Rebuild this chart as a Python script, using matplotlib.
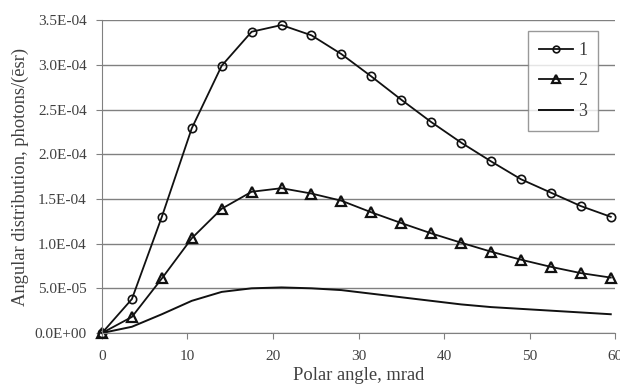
import matplotlib.pyplot as plt
import numpy as np

# polar angle, mrad
angle = [0, 3.5, 7, 10.5, 14, 17.5, 21, 24.5, 28, 31.5, 35, 38.5, 42, 45.5, 49, 52.5, 56, 59.5]

# angular distribution, photons/(e sr)
s1 = [0, 3.8e-5, 1.30e-4, 2.29e-4, 2.99e-4, 3.37e-4, 3.445e-4, 3.33e-4, 3.12e-4, 2.87e-4,
      2.61e-4, 2.36e-4, 2.13e-4, 1.92e-4, 1.72e-4, 1.57e-4, 1.42e-4, 1.30e-4]
s2 = [0, 1.8e-5, 6.1e-5, 1.06e-4, 1.39e-4, 1.58e-4, 1.62e-4, 1.56e-4, 1.48e-4, 1.35e-4,
      1.23e-4, 1.115e-4, 1.01e-4, 9.1e-5, 8.2e-5, 7.4e-5, 6.7e-5, 6.2e-5]
s3 = [0, 7e-6, 2.1e-5, 3.6e-5, 4.6e-5, 5.0e-5, 5.1e-5, 5.0e-5, 4.8e-5, 4.4e-5,
      4.0e-5, 3.6e-5, 3.2e-5, 2.9e-5, 2.7e-5, 2.5e-5, 2.3e-5, 2.1e-5]

yticks = np.arange(0, 3.51e-4, 5e-5)
ytick_labels = ['0.0E+00', '5.0E-05', '1.0E-04', '1.5E-04', '2.0E-04', '2.5E-04', '3.0E-04', '3.5E-04']

plt.rcParams['font.family'] = ['Liberation Serif', 'DejaVu Serif']
txt = '#404040'

fig = plt.figure(figsize=(6.2, 3.87), dpi=100)
ax = fig.add_axes([0.1645, 0.1395, 0.8275, 0.8085])

ax.plot(angle, s1, color='#111111', lw=1.3, marker='o', ms=6, mfc='none', mew=1.2, label='1', clip_on=False)
ax.plot(angle, s2, color='#111111', lw=1.3, marker='^', ms=7.5, mfc='none', mew=1.6, label='2', clip_on=False)
ax.plot(angle, s3, color='#111111', lw=1.4, label='3', clip_on=False)

ax.set_xlim(0, 60)
ax.set_ylim(0, 3.5e-4)
ax.set_xticks([0, 10, 20, 30, 40, 50, 60])
ax.set_yticks(yticks)
ax.set_yticklabels(ytick_labels)
ax.yaxis.grid(True, color='#808080', lw=1)
ax.set_axisbelow(True)

for side in ['top', 'right']:
    ax.spines[side].set_visible(False)
for side in ['left', 'bottom']:
    ax.spines[side].set_color('#808080')
ax.tick_params(axis='both', colors='#808080', labelcolor=txt, labelsize=11, length=4)
ax.tick_params(axis='x', pad=8)
ax.tick_params(axis='y', pad=7)

ax.set_xlabel('Polar angle, mrad', color=txt, fontsize=13.3, labelpad=3)
ax.set_ylabel('Angular distribution, photons/(\u0113sr)', color=txt, fontsize=13.3, labelpad=4)

leg = ax.legend(loc='upper left', bbox_to_anchor=(0.83, 0.965), fontsize=13, frameon=True,
                fancybox=False, edgecolor='#808080', handlelength=1.9, handletextpad=0.3,
                labelspacing=0.75, borderpad=0.6, borderaxespad=0, labelcolor=txt,
                markerscale=0.8)
leg.get_frame().set_linewidth(1)

fig.savefig('out.png', dpi=100)
